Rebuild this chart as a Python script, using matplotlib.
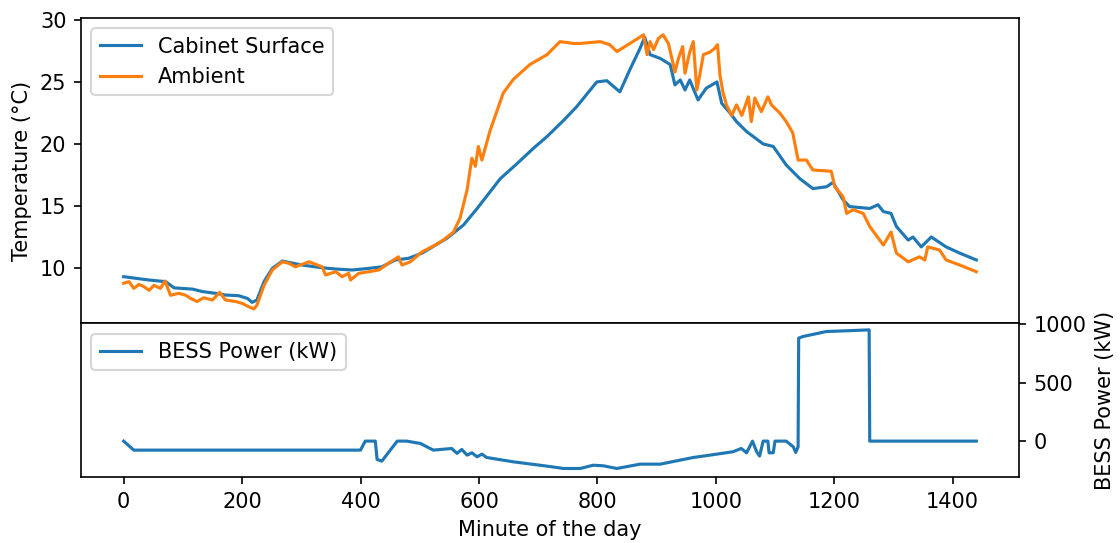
"""Cabinet surface vs ambient temperature, with BESS power below."""

import matplotlib
matplotlib.use("Agg")
import matplotlib.pyplot as plt

# Cabinet surface temperature (minute, degC)
surface_min = [0, 43, 71, 85, 116, 133, 155, 172, 194, 209, 217, 225, 237, 251,
               268, 301, 335, 358, 386, 414, 436, 459, 481, 504, 518, 546, 574,
               597, 636, 664, 692, 715, 743, 765, 799, 816, 838, 855, 872, 880,
               889, 906, 923, 931, 940, 948, 956, 970, 984, 1002, 1010, 1024,
               1035, 1052, 1080, 1097, 1119, 1142, 1164, 1187, 1198, 1215, 1226,
               1260, 1274, 1283, 1296, 1305, 1325, 1333, 1347, 1364, 1389, 1412,
               1440]
surface_temp = [9.30, 9.03, 8.90, 8.40, 8.30, 8.10, 7.96, 7.82, 7.77, 7.55, 7.23,
                7.42, 8.90, 9.97, 10.56, 10.24, 10.02, 9.92, 9.84, 9.97, 10.10,
                10.65, 10.78, 11.20, 11.60, 12.40, 13.47, 14.80, 17.20, 18.40,
                19.65, 20.60, 21.90, 23.00, 25.00, 25.10, 24.20, 26.00, 27.70,
                28.60, 27.20, 26.90, 26.40, 24.76, 25.16, 24.35, 25.16, 23.55,
                24.50, 25.00, 23.28, 22.50, 21.80, 21.00, 20.00, 19.80, 18.30,
                17.20, 16.40, 16.55, 16.90, 15.50, 14.95, 14.80, 15.10, 14.55,
                14.40, 13.35, 12.25, 12.50, 11.70, 12.50, 11.70, 11.20, 10.65]

# Ambient temperature (minute, degC)
ambient_min = [0, 9, 17, 26, 34, 43, 51, 62, 70, 79, 93, 105, 113, 124, 135, 150,
               162, 172, 189, 200, 211, 220, 225, 237, 251, 268, 279, 290, 313,
               335, 341, 358, 369, 380, 383, 397, 414, 431, 447, 464, 470, 484,
               504, 526, 540, 557, 568, 580, 588, 594, 599, 605, 619, 641, 658,
               686, 715, 737, 760, 771, 805, 821, 833, 855, 878, 884, 889, 895,
               903, 911, 920, 931, 937, 944, 948, 956, 962, 968, 973, 979, 990,
               998, 1003, 1007, 1012, 1018, 1027, 1035, 1044, 1055, 1060, 1066,
               1077, 1088, 1094, 1108, 1119, 1130, 1139, 1153, 1164, 1195, 1201,
               1215, 1221, 1232, 1249, 1260, 1283, 1296, 1305, 1325, 1344, 1353,
               1358, 1378, 1389, 1412, 1440]
ambient_temp = [8.77, 8.90, 8.36, 8.68, 8.50, 8.20, 8.60, 8.36, 8.95, 7.80, 7.96,
                7.80, 7.55, 7.30, 7.60, 7.42, 8.04, 7.42, 7.30, 7.15, 6.88, 6.70,
                7.00, 8.60, 9.84, 10.50, 10.38, 10.10, 10.50, 10.10, 9.44, 9.70,
                9.30, 9.57, 9.03, 9.57, 9.70, 9.84, 10.38, 10.90, 10.24, 10.50,
                11.30, 11.85, 12.26, 12.90, 14.00, 16.30, 18.85, 18.20, 19.80,
                18.70, 21.10, 24.10, 25.20, 26.40, 27.20, 28.25, 28.10, 28.10,
                28.25, 28.00, 27.45, 28.10, 28.80, 27.20, 28.25, 27.60, 28.50,
                28.80, 28.10, 25.80, 26.90, 27.85, 25.70, 27.40, 28.25, 24.35,
                25.56, 27.20, 27.40, 27.70, 28.00, 25.56, 24.20, 23.15, 22.30,
                23.15, 22.30, 23.80, 21.80, 23.70, 22.60, 23.80, 23.15, 22.50,
                21.80, 20.90, 18.70, 18.70, 17.90, 17.80, 16.55, 15.75, 14.40,
                14.70, 14.40, 13.35, 11.85, 12.90, 11.20, 10.50, 10.90, 10.65,
                11.70, 11.45, 10.65, 10.24, 9.70]

# BESS power (minute, kW)
bess_min = [0, 17, 400, 408, 425, 428, 436, 462, 478, 501, 523, 554, 563, 571,
            580, 588, 597, 605, 613, 658, 715, 743, 771, 793, 810, 833, 872, 906,
            962, 990, 1029, 1043, 1052, 1062, 1069, 1074, 1080, 1088, 1090, 1097,
            1100, 1119, 1131, 1135, 1139, 1140, 1147, 1187, 1220, 1259, 1260, 1440]
bess_kw = [0, -77, -77, 0, 0, -157, -171, 0, 0, -20, -77, -63, -105, -71,
           -120, -100, -134, -111, -140, -177, -214, -234, -234, -206, -211,
           -234, -197, -197, -140, -120, -91, -63, -100, 0, -91, -128, 0, 0,
           -100, -100, 0, 0, -49, -97, -49, 880, 894, 937, 943, 951, 0, 0]


def main() -> None:
    fig = plt.figure(figsize=(7.473, 3.62), dpi=150)
    ax_t = fig.add_axes([0.0723, 0.405, 0.8367, 0.562])
    ax_p = fig.add_axes([0.0723, 0.1215, 0.8367, 0.2835], sharex=ax_t)

    ax_t.plot(surface_min, surface_temp, color="tab:blue", label="Cabinet Surface")
    ax_t.plot(ambient_min, ambient_temp, color="tab:orange", label="Ambient")
    ax_t.set_ylabel("Temperature (°C)")
    ax_t.set_ylim(5.56, 30.16)
    ax_t.set_yticks([10, 15, 20, 25, 30])
    ax_t.tick_params(axis="x", bottom=False, labelbottom=False)
    ax_t.legend(loc="upper left")

    ax_p.plot(bess_min, bess_kw, color="tab:blue", label="BESS Power (kW)")
    ax_p.set_ylim(-307, 1009)
    ax_p.set_yticks([0, 500, 1000])
    ax_p.yaxis.tick_right()
    ax_p.yaxis.set_label_position("right")
    ax_p.set_ylabel("BESS Power (kW)")
    ax_p.set_xlabel("Minute of the day")
    ax_p.set_xlim(-72, 1512)
    ax_p.set_xticks([0, 200, 400, 600, 800, 1000, 1200, 1400])
    ax_p.legend(loc="upper left")

    fig.savefig("out.png", dpi=150)


if __name__ == "__main__":
    main()
